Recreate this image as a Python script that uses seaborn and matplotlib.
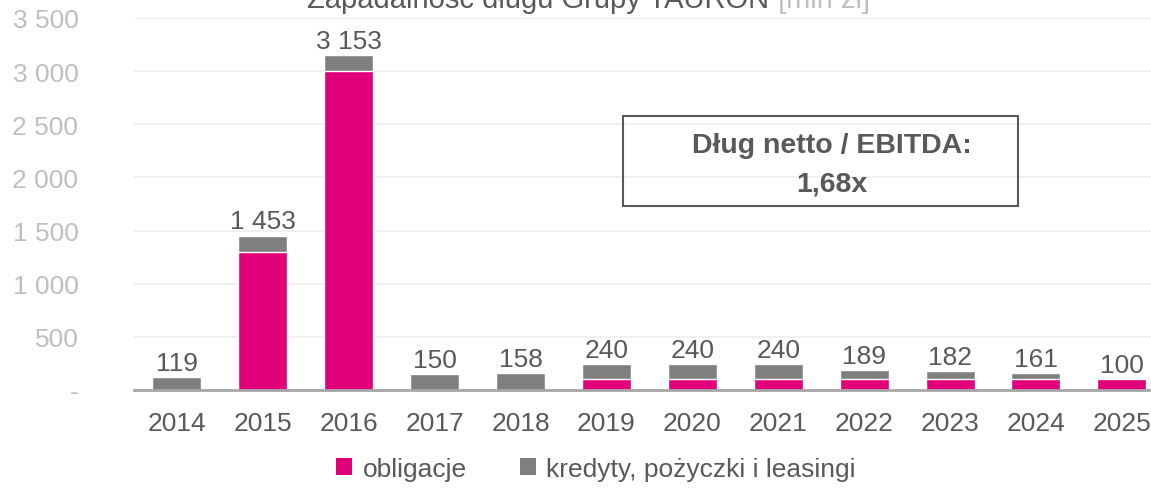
import matplotlib
matplotlib.use("Agg")
import matplotlib.pyplot as plt
import seaborn as sns
import pandas as pd
from matplotlib.patches import Rectangle, Patch
from matplotlib.ticker import FuncFormatter, MultipleLocator

years = ["2014", "2015", "2016", "2017", "2018", "2019", "2020", "2021", "2022", "2023", "2024", "2025"]
obligacje = [0, 1300, 3000, 0, 0, 100, 100, 100, 100, 100, 100, 100]
kredyty = [119, 153, 153, 150, 158, 140, 140, 140, 89, 82, 61, 0]
totals = [o + k for o, k in zip(obligacje, kredyty)]

PINK = "#E2007A"
GRAY = "#7F7F7F"
DARK = "#595959"
LIGHT = "#BFBFBF"

df = pd.DataFrame({"rok": years, "obligacje": obligacje, "kredyty": kredyty, "suma": totals})

sns.set_theme(style="white")
plt.rcParams["font.family"] = ["Liberation Sans", "DejaVu Sans"]

W, H = 1151, 489
fig = plt.figure(figsize=(W / 100, H / 100), dpi=100)
ax_left = 134 / W
ax_bottom = 1 - 391 / H
ax_top = 1 - 19 / H
ax = fig.add_axes([ax_left, ax_bottom, 1 - ax_left, ax_top - ax_bottom])

sns.barplot(data=df, x="rok", y="suma", color=GRAY, width=0.57, saturation=1, ax=ax, zorder=2)
sns.barplot(data=df, x="rok", y="obligacje", color=PINK, width=0.57, saturation=1, ax=ax, zorder=3)

ax.set_ylim(0, 3500)
spacing = 85.9
ax.set_xlim(-0.5, -0.5 + (W - 134) / spacing)
ax.yaxis.set_major_locator(MultipleLocator(500))
ax.yaxis.set_major_formatter(FuncFormatter(lambda v, p: "-" if v == 0 else f"{int(v):,}".replace(",", " ")))
ax.grid(axis="y", color="#EDEDED", linewidth=1.2, zorder=0)
ax.set_axisbelow(True)
for s in ["top", "right", "left"]:
    ax.spines[s].set_visible(False)
ax.spines["bottom"].set_color("#A6A6A6")
ax.spines["bottom"].set_linewidth(2)
ax.spines["bottom"].set_zorder(5)
ax.tick_params(axis="y", colors=LIGHT, labelsize=19, length=0, pad=40)
ax.tick_params(axis="x", colors=DARK, labelsize=19, length=0, pad=15)
ax.set_xlabel("")
ax.set_ylabel("")

for i, t in enumerate(totals):
    ax.annotate(f"{t:,}".replace(",", " "), (i, t), xytext=(0, 1.5), textcoords="offset points",
                ha="center", va="bottom", fontsize=19, color=DARK)

# title (partially cut at top, as in reference)
fig.canvas.draw()
r = fig.canvas.get_renderer()
t1 = fig.text(307 / W, 1 - 8 / H, "Zapadalność długu Grupy TAURON", fontsize=21, color=DARK,
              ha="left", va="baseline")
bb = t1.get_window_extent(renderer=r)
fig.text((bb.x1 + 9) / W, 1 - 8 / H, "[mln zł]", fontsize=21, color=LIGHT, ha="left", va="baseline")

# box
fig.patches.append(Rectangle((623 / W, 1 - 207 / H), (1018 - 623) / W, (207 - 117) / H,
                             transform=fig.transFigure, fill=False, edgecolor=DARK, linewidth=1.5))
fig.text(832 / W, 1 - 146 / H, "Dług netto / EBITDA:", fontsize=20.5, fontweight="bold", color=DARK,
         ha="center", va="center")
fig.text(832 / W, 1 - 184 / H, "1,68x", fontsize=20.5, fontweight="bold", color=DARK,
         ha="center", va="center")

handles = [Patch(facecolor=PINK, edgecolor="none", label="obligacje"),
           Patch(facecolor=GRAY, edgecolor="none", label="kredyty, pożyczki i leasingi")]
leg = fig.legend(handles=handles, loc="center", bbox_to_anchor=(596 / W, 1 - 470 / H), ncol=2,
                 frameon=False, fontsize=19, handlelength=0.6, handleheight=0.6, handletextpad=0.4,
                 columnspacing=2.0)
for txt in leg.get_texts():
    txt.set_color(DARK)

fig.savefig("out.png", dpi=100)
